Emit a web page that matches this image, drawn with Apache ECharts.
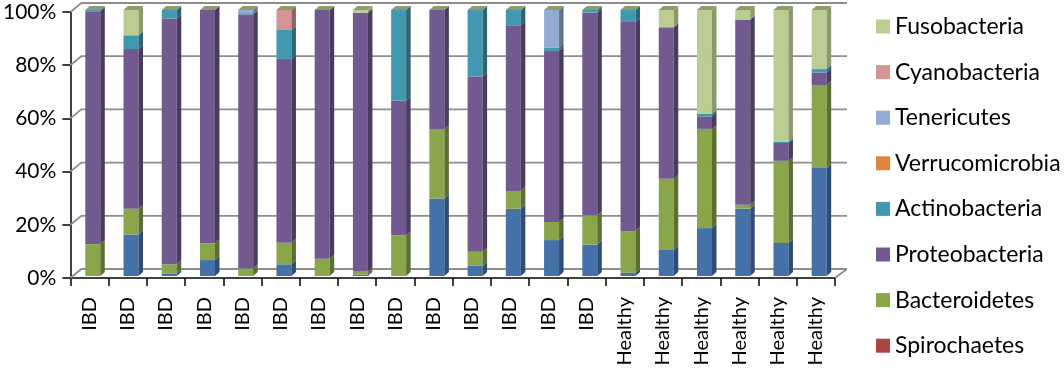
<!DOCTYPE html>
<html><head><meta charset="utf-8">
<script src="https://cdn.jsdelivr.net/npm/echarts@6/dist/echarts.min.js"></script>
<style>html,body{margin:0;padding:0;background:#fff}#c{width:1064px;height:374px}</style>
</head><body><div id="c"></div>
<script>
const categories = ['IBD','IBD','IBD','IBD','IBD','IBD','IBD','IBD','IBD','IBD','IBD','IBD','IBD','IBD','Healthy','Healthy','Healthy','Healthy','Healthy','Healthy'];
const yTicks = [0, 20, 40, 60, 80, 100];
// values in % (bottom to top of the stack)
const firmicutes      = [0, 15.6, 0.8, 6, 0, 4.4, 0, 0.5, 0, 29.1, 3.8, 25.3, 13.5, 11.8, 1.2, 9.8, 18, 25.3, 12.4, 40.6];
const spirochaetes    = [0, 0, 0, 0, 0, 0, 0, 0, 0, 0, 0, 0, 0, 0, 0, 0, 0, 0, 0, 0];
const bacteroidetes   = [12, 9.7, 3.6, 6.3, 2.8, 8.1, 6.5, 1.4, 15.3, 26.2, 5.3, 6.7, 6.8, 11, 15.7, 26.8, 37.3, 1.5, 30.9, 31.2];
const proteobacteria  = [87.5, 60, 92.4, 87.7, 95.5, 69.1, 93.5, 97.1, 50.7, 44.7, 65.9, 62.3, 64.3, 76.2, 78.6, 56.9, 4.7, 69.5, 6.7, 4.7];
const actinobacteria  = [0.5, 5.2, 3.2, 0, 0.5, 10.9, 0, 0, 34, 0, 25, 5.7, 1.3, 1, 4.5, 0, 0.9, 0, 0.4, 1.3];
const verrucomicrobia = [0, 0, 0, 0, 0, 0, 0, 0, 0, 0, 0, 0, 0, 0, 0, 0, 0, 0, 0, 0];
const tenericutes     = [0, 0, 0, 0, 1.2, 0, 0, 0, 0, 0, 0, 0, 14.1, 0, 0, 0, 0, 0, 0, 0];
const cyanobacteria   = [0, 0, 0, 0, 0, 7.5, 0, 0, 0, 0, 0, 0, 0, 0, 0, 0, 0, 0, 0, 0];
const fusobacteria    = [0, 9.5, 0, 0, 0, 0, 0, 1.0, 0, 0, 0, 0, 0, 0, 0, 6.5, 39.1, 3.7, 49.6, 22.2];

const stackDefs = [
  {name:'Firmicutes', data:firmicutes, front:'#4472a8', side:'#2e4d74'},
  {name:'Spirochaetes', data:spirochaetes, front:'#a94442', side:'#722d2c'},
  {name:'Bacteroidetes', data:bacteroidetes, front:'#8aa64b', side:'#5c6f32'},
  {name:'Proteobacteria', data:proteobacteria, front:'#725a91', side:'#4a3b5f'},
  {name:'Actinobacteria', data:actinobacteria, front:'#4198b0', side:'#2b6676'},
  {name:'Verrucomicrobia', data:verrucomicrobia, front:'#e0853d', side:'#9a5a28'},
  {name:'Tenericutes', data:tenericutes, front:'#94abd3', side:'#63728d'},
  {name:'Cyanobacteria', data:cyanobacteria, front:'#d49494', side:'#8f6363'},
  {name:'Fusobacteria', data:fusobacteria, front:'#bccd94', side:'#8a9a6c'}
];
const legendNames = ['Fusobacteria','Cyanobacteria','Tenericutes','Verrucomicrobia','Actinobacteria','Proteobacteria','Bacteroidetes','Spirochaetes'];

const BW = 15, DX = 4.5, DY = -4, OX = 3.3, OY = -2;
const TOPFACE = '#8d9b6d';

const cum = categories.map(() => 0);
const series = [];

// back wall / floor grid lines
series.push({
  type:'custom', name:'wall', silent:true, z:1,
  data: yTicks.map(v => [0, v]),
  renderItem: function(params, api){
    const cs = params.coordSys;
    const y = api.coord([0, api.value(1)])[1];
    const x0 = cs.x, x1 = cs.x + cs.width;
    const ls = {stroke:'#8e8e8e', lineWidth:1.8, fill:null};
    const ch = [{type:'polyline', shape:{points:[[x0, y],[x0+11, y-9],[x1+12, y-9]]}, style:ls}];
    if (api.value(1) === 0) ch.push({type:'line', shape:{x1:x1, y1:y, x2:x1+12, y2:y-9}, style:ls});
    return {type:'group', children:ch};
  }
});

stackDefs.forEach((d, si) => {
  const isTop = si === stackDefs.length - 1;
  const data = d.data.map((v, i) => { const lo = cum[i]; cum[i] += v; return [i, lo, cum[i]]; });
  series.push({
    type:'custom', name:d.name, z:3,
    itemStyle:{color:d.front},
    encode:{x:0, y:2},
    data:data,
    renderItem: function(params, api){
      const cat = api.value(0), lo = api.value(1), hi = api.value(2);
      const a = api.coord([cat, lo]), b = api.coord([cat, hi]);
      const xl = a[0] + OX - BW/2, xr = xl + BW, yb = a[1] + OY, yt = b[1] + OY;
      const ch = [];
      if (hi - lo > 0.01) {
        ch.push({type:'rect', shape:{x:xl, y:yt, width:BW, height:yb-yt}, style:{fill:d.front}});
        ch.push({type:'polygon', shape:{points:[[xr,yb],[xr+DX,yb+DY],[xr+DX,yt+DY],[xr,yt]]}, style:{fill:d.side}});
      }
      if (isTop) {
        ch.push({type:'polygon', shape:{points:[[xl,yt],[xl+DX,yt+DY],[xr+DX,yt+DY],[xr,yt]]}, style:{fill:TOPFACE}});
      }
      return {type:'group', children:ch};
    }
  });
});

const chart = echarts.init(document.getElementById('c'));
chart.setOption({
  animation:false,
  textStyle:{fontFamily:'Lato'},
  grid:{left:70, right:229, top:12, bottom:96},
  legend:{
    data:legendNames, orient:'vertical', left:871, top:10,
    icon:'rect', itemWidth:14, itemHeight:14, itemGap:22.6,
    textStyle:{fontSize:23, lineHeight:23, color:'#000', fontFamily:'Lato'},
    selectedMode:false
  },
  xAxis:{
    type:'category', data:categories,
    axisLine:{lineStyle:{color:'#000', width:1.5}},
    axisTick:{show:true, length:8, lineStyle:{color:'#000', width:1.5}},
    axisLabel:{rotate:90, fontSize:20, color:'#000', margin:19, fontFamily:'Lato'},
    splitLine:{show:false}
  },
  yAxis:{
    type:'value', min:0, max:100, interval:20,
    axisLine:{show:true, lineStyle:{color:'#000', width:1.5}},
    axisTick:{show:true, length:8, lineStyle:{color:'#000', width:1.5}},
    axisLabel:{formatter:'{value}%', fontSize:21, color:'#000', margin:14, fontFamily:'Lato'},
    splitLine:{show:false}
  },
  series:series
});
</script></body></html>
